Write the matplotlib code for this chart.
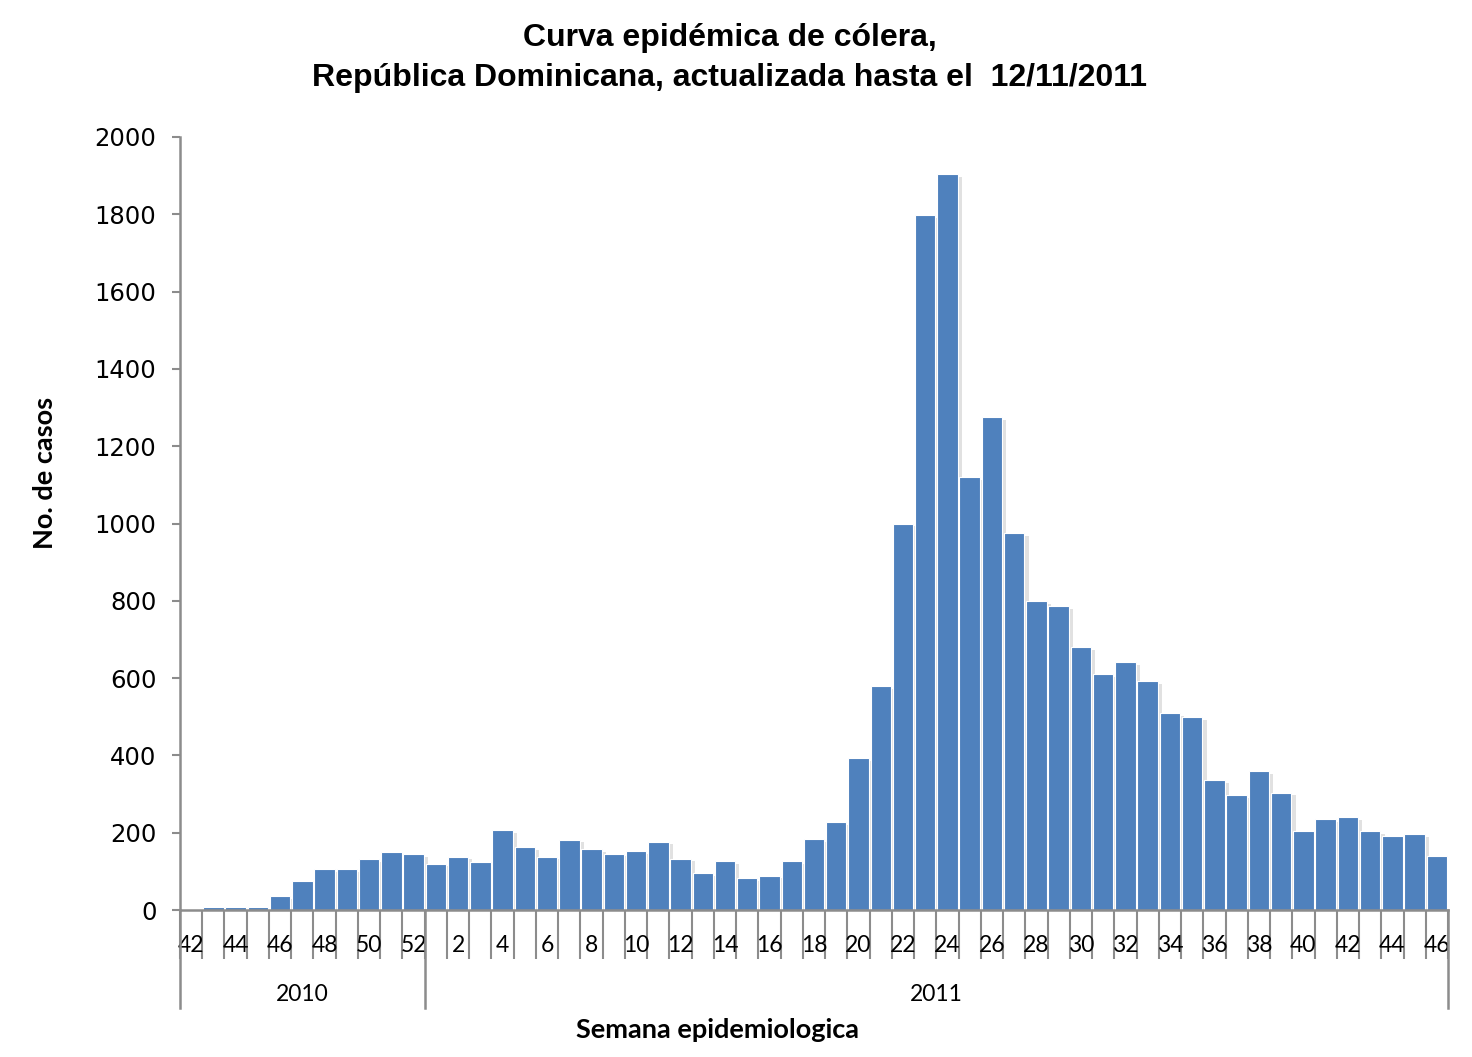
import matplotlib
matplotlib.use('Agg')
from matplotlib import pyplot as plt
import matplotlib.patheffects as pe
import matplotlib.transforms as mtrans

# semanas epidemiologicas: 2010 (42-52) y 2011 (1-46)
weeks_2010 = list(range(42, 53))
weeks_2011 = list(range(1, 47))
cases_2010 = [0, 8, 8, 8, 35, 76, 106, 106, 132, 150, 145]
cases_2011 = [120, 138, 125, 207, 163, 138, 182, 157, 146, 152,
              177, 133, 96, 127, 83, 89, 127, 184, 227, 393,
              580, 1000, 1797, 1904, 1120, 1276, 976, 799, 787, 680,
              611, 642, 592, 510, 499, 336, 297, 360, 304, 204,
              235, 241, 204, 191, 197, 141]
years = ['2010', '2011']

weeks = weeks_2010 + weeks_2011
cases = cases_2010 + cases_2011
n = len(weeks)
x = list(range(n))

gray = '#8c8c8c'
blue = '#4f81bd'

fig = plt.figure(figsize=(14.72, 10.57), dpi=100)
ax = fig.add_axes([180/1472, 1 - 910/1057, 1268/1472, 773/1057])

bars = ax.bar(x, cases, width=0.92, color=blue, edgecolor='white', linewidth=0.8)
for b in bars:
    b.set_path_effects([pe.SimplePatchShadow(offset=(3, -2), shadow_rgbFace='#aaaaaa', alpha=0.35),
                        pe.Normal()])

ax.set_xlim(-0.5, n - 0.5)
ax.set_ylim(0, 2000)
ax.set_yticks(range(0, 2001, 200))
ax.tick_params(axis='y', length=6, width=1.5, color=gray, labelsize=17.5, pad=11)

for s in ['top', 'right']:
    ax.spines[s].set_visible(False)
for s in ['left', 'bottom']:
    ax.spines[s].set_color(gray)
    ax.spines[s].set_linewidth(1.8)

# ticks en los limites de cada semana, etiquetas en semanas pares
ax.set_xticks([i - 0.5 for i in range(n + 1)])
ax.set_xticklabels([])
ax.tick_params(axis='x', which='major', length=35, width=1.5, color=gray)
lab_pos = [i for i in x if weeks[i] % 2 == 0]
ax.set_xticks(lab_pos, minor=True)
ax.set_xticklabels([str(weeks[i]) for i in lab_pos], minor=True, family='Lato', fontsize=16.5)
ax.tick_params(axis='x', which='minor', length=0, pad=18)

# separadores de año
trans = mtrans.blended_transform_factory(ax.transData, ax.transAxes)
n10 = len(weeks_2010)
for xb in [-0.5, n10 - 0.5, n - 0.5]:
    ax.plot([xb, xb], [0, -0.127], transform=trans, color=gray, lw=1.8, clip_on=False)
ax.text((n10 - 1) / 2, -0.109, years[0], transform=trans, ha='center', va='center',
        family='Lato', fontsize=16.5)
ax.text(n10 + (len(weeks_2011) - 1) / 2, -0.109, years[1], transform=trans, ha='center',
        va='center', family='Lato', fontsize=16.5)

fig.text(718/1472, 1 - 1030/1057, 'Semana epidemiologica', ha='center', va='center',
         family='Lato', fontweight='bold', fontsize=19.5)
fig.text(45/1472, 1 - 473/1057, 'No. de casos', ha='center', va='center', rotation=90,
         family='Lato', fontweight='bold', fontsize=19.5)

fig.text(730/1472, 1 - 38/1057, 'Curva epidémica de cólera,', ha='center', va='center',
         family='Liberation Sans', fontweight='bold', fontsize=23)
fig.text(730/1472, 1 - 78/1057, 'República Dominicana, actualizada hasta el  12/11/2011',
         ha='center', va='center', family='Liberation Sans', fontweight='bold', fontsize=23)

fig.savefig('out.png', dpi=100)
